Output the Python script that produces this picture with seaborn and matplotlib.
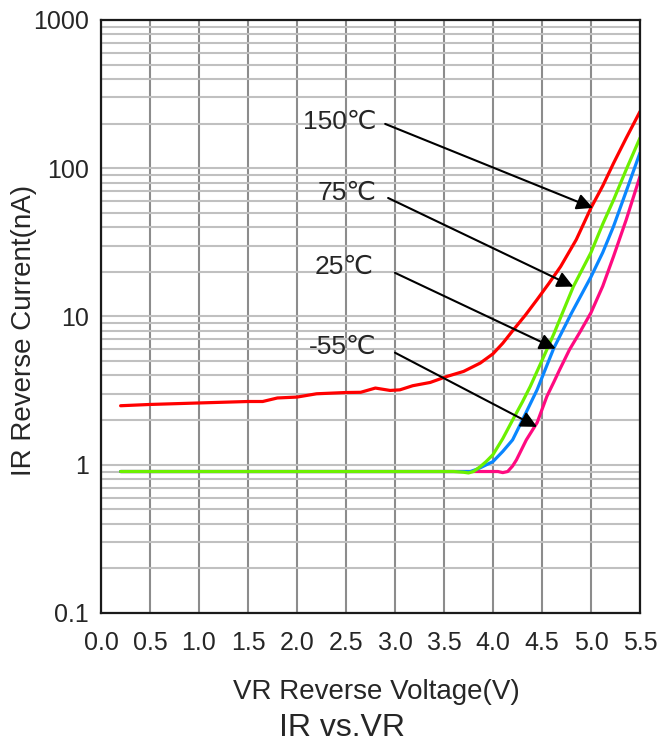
import numpy as np
import pandas as pd
import matplotlib
matplotlib.use("Agg")
import matplotlib.pyplot as plt
import seaborn as sns

# values (VR in volts, IR in nA)
vr_150 = [0.2, 0.5, 1.0, 1.5, 1.65, 1.8, 2.0, 2.2, 2.5, 2.65, 2.8, 2.95, 3.05, 3.18,
          3.36, 3.53, 3.7, 3.87, 4.0, 4.1, 4.2, 4.33, 4.45, 4.57, 4.69, 4.85, 5.0,
          5.12, 5.23, 5.36, 5.5]
ir_150 = [2.50, 2.55, 2.61, 2.67, 2.67, 2.82, 2.86, 3.01, 3.07, 3.08, 3.29, 3.17, 3.2,
          3.41, 3.59, 3.94, 4.26, 4.85, 5.6, 6.6, 8.0, 10.2, 13.0, 16.7, 21.7, 33, 54,
          76, 108, 160, 241]

vr_75 = [0.2, 1.0, 2.0, 3.0, 3.6, 3.7, 3.75, 3.8, 3.87, 3.93, 4.0, 4.1, 4.2, 4.3,
         4.38, 4.52, 4.62, 4.72, 4.82, 5.0, 5.12, 5.23, 5.36, 5.5]
ir_75 = [0.9, 0.9, 0.9, 0.9, 0.9, 0.89, 0.88, 0.9, 0.97, 1.05, 1.17, 1.5, 2.0, 2.65,
         3.37, 5.4, 7.6, 11.0, 15.9, 27, 42, 61, 98, 160]

vr_25 = [0.2, 1.0, 2.0, 3.0, 3.7, 3.77, 3.85, 3.92, 4.0, 4.1, 4.2, 4.3, 4.45, 4.62,
         4.8, 5.0, 5.12, 5.23, 5.36, 5.5]
ir_25 = [0.9, 0.9, 0.9, 0.9, 0.9, 0.9, 0.94, 0.99, 1.05, 1.23, 1.47, 2.0, 3.2, 6.1,
         10.5, 18.5, 27, 40.5, 70, 127]

vr_m55 = [0.2, 1.0, 2.0, 3.0, 4.0, 4.05, 4.1, 4.15, 4.2, 4.24, 4.34, 4.45, 4.55, 4.62,
          4.68, 4.78, 4.89, 5.0, 5.12, 5.23, 5.36, 5.5]
ir_m55 = [0.9, 0.9, 0.9, 0.9, 0.9, 0.9, 0.885, 0.9, 0.98, 1.08, 1.47, 1.92, 2.89, 3.6,
          4.37, 5.96, 7.9, 10.6, 16, 25.4, 45, 88]

temps = ['150℃', '75℃', '25℃', '-55℃']
colors = {'150℃': '#ff0000', '75℃': '#6cf000', '25℃': '#0a86ff', '-55℃': '#ff0a80'}

x_ticks = [0.0, 0.5, 1.0, 1.5, 2.0, 2.5, 3.0, 3.5, 4.0, 4.5, 5.0, 5.5]
y_ticks = [0.1, 1, 10, 100, 1000]
y_tick_labels = ['0.1', '1', '10', '100', '1000']

# label text position and arrow (start, tip) for each curve
label_pos = {'150℃': (2.81, 205), '75℃': (2.81, 68), '25℃': (2.78, 21.6), '-55℃': (2.81, 6.25)}
arrow_start = {'150℃': (2.90, 199), '75℃': (2.93, 63), '25℃': (3.0, 19.7), '-55℃': (3.0, 5.7)}
arrow_tip = {'150℃': (5.02, 54), '75℃': (4.82, 15.9), '25℃': (4.64, 6.06), '-55℃': (4.45, 1.80)}

frames = []
for t, vr, ir in zip(temps, [vr_150, vr_75, vr_25, vr_m55], [ir_150, ir_75, ir_25, ir_m55]):
    frames.append(pd.DataFrame({'VR': vr, 'IR': ir, 'Temp': t}))
df = pd.concat(frames, ignore_index=True)

sns.set_style('white')
plt.rcParams['font.family'] = ['Liberation Sans', 'DejaVu Sans']

fig = plt.figure(figsize=(6.58, 7.45), dpi=100)
ax = fig.add_axes([0.1535, 0.1772, 0.8191, 0.796])

sns.lineplot(data=df, x='VR', y='IR', hue='Temp', hue_order=['150℃', '-55℃', '25℃', '75℃'],
             palette=colors, estimator=None, sort=False, linewidth=2.3, legend=False, ax=ax)

ax.set_yscale('log')
ax.set_xlim(0, 5.5)
ax.set_ylim(0.1, 1000)
ax.set_xticks(x_ticks)
ax.set_xticklabels([f'{v:.1f}' for v in x_ticks])
ax.set_yticks(y_ticks)
ax.set_yticklabels(y_tick_labels)
ax.xaxis.set_minor_locator(matplotlib.ticker.NullLocator())
ax.yaxis.set_minor_locator(matplotlib.ticker.LogLocator(base=10, subs=np.arange(2, 10)))
ax.yaxis.set_minor_formatter(matplotlib.ticker.NullFormatter())
ax.tick_params(axis='both', which='both', length=0, labelsize=18)
ax.tick_params(axis='x', pad=13)
ax.tick_params(axis='y', pad=9)

ax.grid(axis='y', which='both', color='#c0c0c0', linewidth=1.5)
ax.grid(axis='x', which='major', color='#8c8c8c', linewidth=1.5)
ax.set_axisbelow(True)
for s in ax.spines.values():
    s.set_color('#1a1a1a')
    s.set_linewidth(1.6)

ax.set_xlabel('')
ax.set_ylabel('')

for t in temps:
    ax.text(*label_pos[t], t, fontsize=19, ha='right', va='center')
    ax.annotate('', xy=arrow_tip[t], xytext=arrow_start[t],
                arrowprops=dict(arrowstyle='-|>', color='black', lw=1.5,
                                mutation_scale=24, shrinkA=0, shrinkB=0))

fig.text(376 / 658, 1 - 692 / 745, 'VR Reverse Voltage(V)', fontsize=20, ha='center', va='center')
fig.text(342 / 658, 1 - 728 / 745, 'IR vs.VR', fontsize=23, ha='center', va='center')
fig.text(24 / 658, 1 - 330 / 745, 'IR Reverse Current(nA)', fontsize=20, ha='center', va='center',
         rotation=90)

fig.savefig('out.png', dpi=100)
